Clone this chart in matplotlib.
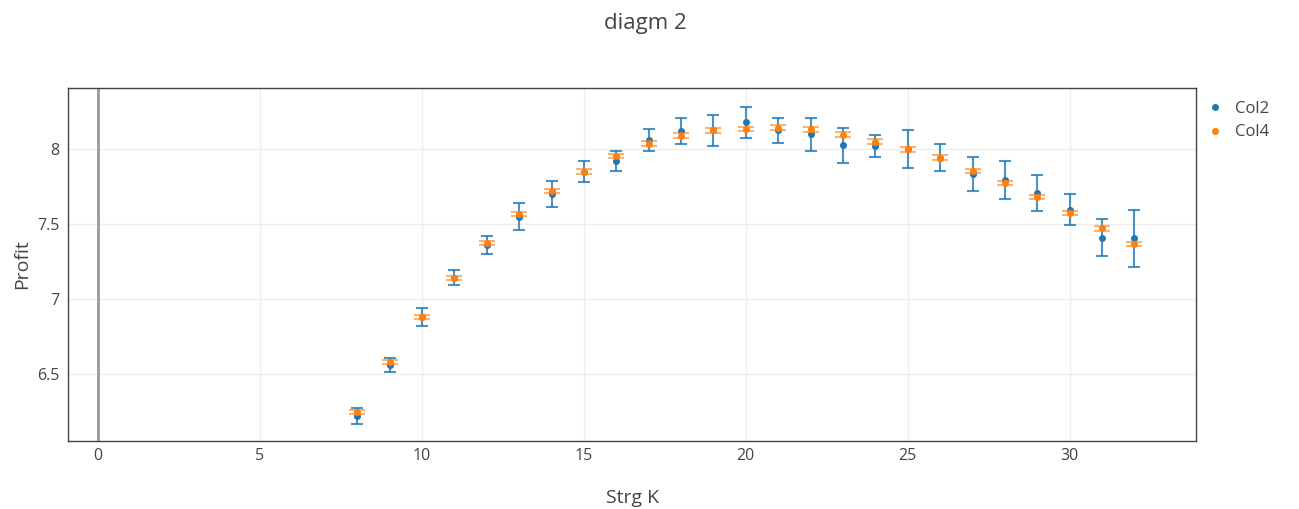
import numpy as np
import matplotlib
matplotlib.use('Agg')
import matplotlib.pyplot as plt
from matplotlib.lines import Line2D

plt.rcParams['font.family'] = ['Open Sans', 'DejaVu Sans']

# data
strg_k = [8, 9, 10, 11, 12, 13, 14, 15, 16, 17, 18, 19, 20,
          21, 22, 23, 24, 25, 26, 27, 28, 29, 30, 31, 32]
col2 = [6.22, 6.56, 6.88, 7.14, 7.36, 7.55, 7.70, 7.85, 7.92, 8.06, 8.12, 8.125, 8.178,
        8.124, 8.10, 8.024, 8.02, 8.00, 7.942, 7.836, 7.793, 7.707, 7.596, 7.409, 7.404]
col2_err = [0.053, 0.047, 0.057, 0.05, 0.057, 0.09, 0.087, 0.071, 0.068, 0.073, 0.086, 0.105, 0.105,
            0.085, 0.11, 0.114, 0.076, 0.127, 0.089, 0.114, 0.125, 0.117, 0.105, 0.122, 0.189]
col4 = [6.247, 6.58, 6.88, 7.14, 7.373, 7.567, 7.72, 7.85, 7.953, 8.036, 8.089, 8.124, 8.133,
        8.142, 8.131, 8.096, 8.049, 7.998, 7.942, 7.853, 7.773, 7.68, 7.573, 7.471, 7.367]
col4_err = [0.015] * len(strg_k)

blue = '#1f77b4'
orange = '#ff7f0e'
txt = '#444444'

fig = plt.figure(figsize=(12.99, 5.09), dpi=100)
ax = fig.add_axes([68 / 1299, 68 / 509, 1128 / 1299, 353 / 509])

eb2 = ax.errorbar(strg_k, col2, yerr=col2_err, fmt='o', color=blue, ms=4,
                  ecolor=blue, elinewidth=1.5, capsize=4, capthick=1.5, zorder=3)
for part in eb2[1] + eb2[2]:
    part.set_alpha(0.8)
eb = ax.errorbar(strg_k, col4, yerr=col4_err, fmt='o', color=orange, ms=4,
                 ecolor=orange, elinewidth=1.5, capsize=5.5, capthick=1.5, zorder=4)
for part in eb[1] + eb[2]:
    part.set_alpha(0.6)

ax.axvline(0, color='#999999', lw=2, zorder=2)

ax.set_xlim(-0.93, 33.9)
ax.set_ylim(6.053, 8.407)
ax.set_xticks([0, 5, 10, 15, 20, 25, 30])
ax.set_yticks([6.5, 7, 7.5, 8])
ax.set_yticklabels(['6.5', '7', '7.5', '8'])
ax.grid(True, color='#eeeeee', lw=1)
ax.set_axisbelow(True)
ax.tick_params(length=0, labelsize=11.5, colors=txt)
ax.tick_params(axis='x', pad=5)
ax.tick_params(axis='y', pad=6)
for s in ax.spines.values():
    s.set_color(txt)
    s.set_linewidth(1)

ax.set_xlabel('Strg K', fontsize=14, color=txt)
ax.set_ylabel('Profit', fontsize=14, color=txt)
ax.xaxis.set_label_coords(0.5, -0.137)
ax.yaxis.set_label_coords(-0.033, 0.5)
fig.text(645 / 1299, 1 - 24 / 509, 'diagm 2', ha='center', va='center', fontsize=16, color=txt)

handles = [Line2D([], [], marker='o', ls='', color=blue, ms=4),
           Line2D([], [], marker='o', ls='', color=orange, ms=4)]
fig.legend(handles, ['Col2', 'Col4'], loc='upper left', bbox_to_anchor=(1190 / 1299, 1 - 86 / 509),
           frameon=False, fontsize=12, labelcolor=txt, handlelength=1.2, handletextpad=0.6,
           labelspacing=0.45)

fig.savefig('out.png', dpi=100)
